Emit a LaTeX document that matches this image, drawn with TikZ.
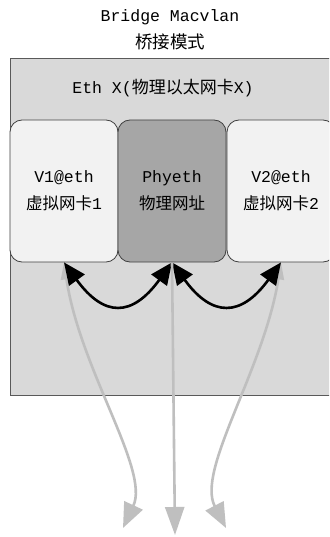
\documentclass[tikz,border=0pt]{standalone}
\usepackage{fontspec}
\setmainfont{Liberation Mono}
\newfontfamily\cjk{Noto Sans CJK SC}
\usetikzlibrary{arrows.meta}
\definecolor{outerfill}{HTML}{D9D9D9}
\definecolor{lightfill}{HTML}{F2F2F2}
\definecolor{darkfill}{HTML}{A6A6A6}
\definecolor{linkgray}{HTML}{BFBFBF}
\begin{document}
\begin{tikzpicture}[x=1pt,y=-1pt,
  txt/.style={font=\fontsize{16.5}{27}\selectfont, inner sep=0pt, align=center},
  card/.style={draw=black!75, rounded corners=12pt, minimum width=108pt, minimum height=142pt, line width=0.8pt, txt},
  blk/.style={line width=2.6pt, {Triangle[length=22pt,width=19pt]}-{Triangle[length=22pt,width=19pt]}},
  gry/.style={draw=linkgray, line width=2.6pt, {Triangle[length=17pt,width=11pt]}-{Triangle[length=25pt,width=20pt]}},
  gryone/.style={draw=linkgray, line width=2.6pt, -{Triangle[length=28pt,width=19pt]}}]
\clip (0,0) rectangle (329,537);
\fill[white] (0,0) rectangle (329,537);
\node[txt] (t1) at (170,17) {Bridge Macvlan};
\node[txt] (t2) at (170,42) {\cjk\fontsize{17.5}{20}\selectfont 桥接模式};
\node[draw=black!65, fill=outerfill, line width=0.8pt, minimum width=330pt, minimum height=337pt, anchor=north west, inner sep=0pt] (eth) at (10,58) {};
\node[txt] (ethl) at (163,88) {Eth X({\cjk\fontsize{17}{20}\selectfont 物理以太网卡}X)};
\node[card, fill=lightfill] (v1) at (64,191) {V1@eth\\{\cjk 虚拟网卡}1};
\node[card, fill=darkfill] (ph) at (172,191) {Phyeth\\{\cjk 物理网址}};
\node[card, fill=lightfill] (v2) at (281,191) {V2@eth\\{\cjk 虚拟网卡}2};
\coordinate (e1) at (123,528);
\coordinate (e2) at (175,535);
\coordinate (e3) at (226,528);
\draw[gry] (v1.south) .. controls (80,370) and (150,470) .. (e1);
\draw[gry] (v2.south) .. controls (264,370) and (196,470) .. (e3);
\draw[blk] (v1.south) .. controls +(40,55) and +(-40,55) .. (ph.south);
\draw[blk] (ph.south) .. controls +(40,55) and +(-40,55) .. (v2.south);
\draw[gryone] (ph.south) -- (e2);
\end{tikzpicture}
\end{document}
